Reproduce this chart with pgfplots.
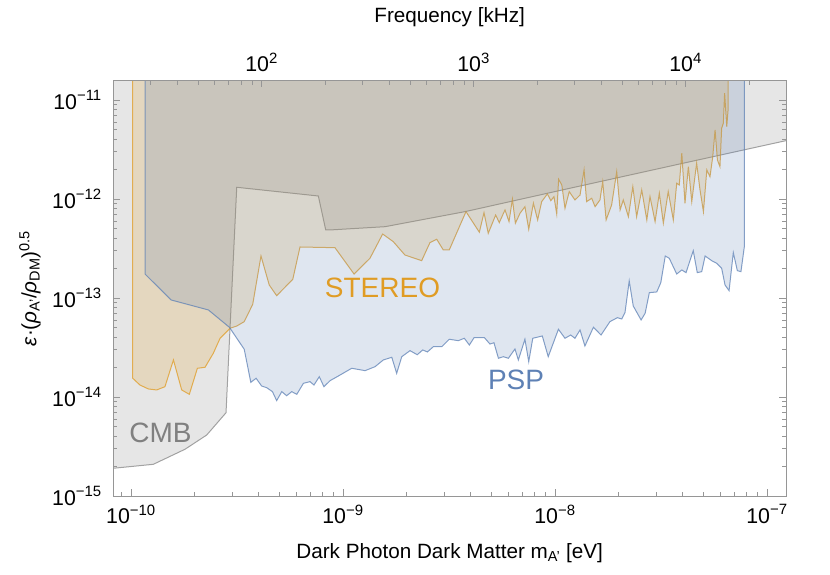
\documentclass[border=0pt]{standalone}
\usepackage{fontspec}
\setmainfont{Liberation Sans}
\usepackage{pgfplots}
\pgfplotsset{compat=1.18}

\definecolor{pspBlue}{RGB}{94,129,181}
\definecolor{stOrange}{RGB}{224,156,36}
\definecolor{cmbGray}{RGB}{128,128,128}
\definecolor{frameGray}{RGB}{150,150,150}

% all values are log10: x = log10(m_A' / eV), y = log10(epsilon)
\pgfplotsset{
  base/.style={
    at={(0,0)}, anchor=south west,
    width=504.5pt, height=311.5pt, scale only axis,
    axis line style={frameGray, line width=0.6pt},
    tick style={frameGray, line width=0.6pt},
    major tick length=5pt, minor tick length=3pt,
    tick label style={font=\fontsize{16}{19}\selectfont, black},
    label style={font=\fontsize{15.5}{18}\selectfont, black},
  }
}

\begin{document}
\begin{tikzpicture}
\useasboundingbox (-85pt,-58.5pt) rectangle (537.5pt,372pt);

\begin{axis}[base,
  xmin=-10.0835, xmax=-6.9104, ymin=-15, ymax=-10.805,
  axis on top,
  xtick pos=left, ytick pos=both, yticklabel pos=left,
  xticklabel style={yshift=-3pt},
  yticklabel style={xshift=-5pt},
  xtick={-10,-9,-8,-7},
  xticklabels={10\textsuperscript{−10},10\textsuperscript{−9},10\textsuperscript{−8},10\textsuperscript{−7}},
  minor xtick={-10.04576,
    -9.69897,-9.52288,-9.39794,-9.30103,-9.22185,-9.15490,-9.09691,-9.04576,
    -8.69897,-8.52288,-8.39794,-8.30103,-8.22185,-8.15490,-8.09691,-8.04576,
    -7.69897,-7.52288,-7.39794,-7.30103,-7.22185,-7.15490,-7.09691,-7.04576},
  ytick={-15,-14,-13,-12,-11},
  yticklabels={10\textsuperscript{−15},10\textsuperscript{−14},10\textsuperscript{−13},10\textsuperscript{−12},10\textsuperscript{−11}},
  minor ytick={
    -14.69897,-14.52288,-14.39794,-14.30103,-14.22185,-14.15490,-14.09691,-14.04576,
    -13.69897,-13.52288,-13.39794,-13.30103,-13.22185,-13.15490,-13.09691,-13.04576,
    -12.69897,-12.52288,-12.39794,-12.30103,-12.22185,-12.15490,-12.09691,-12.04576,
    -11.69897,-11.52288,-11.39794,-11.30103,-11.22185,-11.15490,-11.09691,-11.04576},
  xlabel={Dark Photon Dark Matter m\textsubscript{A'} [eV]},
  xlabel style={at={(axis description cs:0.5,-0.137)}, anchor=center},
  ylabel={\textit{ε}·(\textit{ρ}\textsubscript{A'}/\textit{ρ}\textsubscript{DM})\textsuperscript{0.5}},
  ylabel style={at={(axis description cs:-0.124,0.5)}, anchor=center},
]

% CMB
\addplot[fill=cmbGray, fill opacity=0.2, draw=cmbGray, draw opacity=0.7, line width=0.75pt]
coordinates {
(-10.2,-14.730) (-10.0835,-14.720) (-9.8948,-14.680) (-9.7453,-14.528) (-9.6429,-14.384)
(-9.5519,-14.159) (-9.533,-13.303) (-9.5014,-11.882) (-9.1165,-11.970) (-9.0816,-12.313)
(-9.0613,-12.313) (-8.8019,-12.280) (-8.4198,-12.126) (-7.9764,-11.914) (-7.4104,-11.646)
(-6.9104,-11.411) (-6.8,-11.385) (-6.8,-10.5) (-10.2,-10.5)
} --cycle;

% STEREO
\addplot[fill=stOrange, fill opacity=0.2, draw=stOrange, draw opacity=0.75, line width=0.75pt]
coordinates {
(-9.992,-10.5)
(-9.992,-13.811) (-9.958,-13.879) (-9.918,-13.919) (-9.879,-13.929) (-9.840,-13.896)
(-9.800,-13.626) (-9.761,-13.929) (-9.725,-13.973) (-9.687,-13.710) (-9.651,-13.700)
(-9.612,-13.559) (-9.580,-13.407) (-9.533,-13.306) (-9.501,-13.283) (-9.466,-13.239)
(-9.426,-13.064) (-9.387,-12.576) (-9.348,-12.869) (-9.313,-12.977) (-9.237,-12.811)
(-9.203,-12.485) (-9.038,-12.492) (-8.948,-12.758) (-8.873,-12.599) (-8.813,-12.354)
(-8.763,-12.431) (-8.708,-12.566) (-8.629,-12.623) (-8.590,-12.441) (-8.558,-12.407)
(-8.527,-12.515) (-8.499,-12.515) (-8.420,-12.128) (-8.357,-12.336) (-8.335,-12.138)
(-8.315,-12.347) (-8.280,-12.162) (-8.263,-12.239) (-8.236,-12.111) (-8.217,-12.229)
(-8.201,-12.003) (-8.187,-12.245) (-8.165,-12.144) (-8.142,-12.078) (-8.124,-12.306)
(-8.102,-12.043) (-8.082,-12.212) (-8.063,-12.027) (-8.036,-11.949) (-8.020,-12.017)
(-8.005,-11.977) (-7.992,-12.152) (-7.983,-11.801) (-7.968,-11.859) (-7.953,-12.094)
(-7.933,-11.926) (-7.906,-12.010) (-7.882,-11.960) (-7.863,-11.707) (-7.851,-12.027)
(-7.827,-11.993) (-7.811,-12.078) (-7.788,-12.010) (-7.775,-11.825) (-7.759,-12.212)
(-7.733,-12.061) (-7.709,-11.724) (-7.693,-12.111) (-7.678,-12.010) (-7.654,-12.179)
(-7.633,-11.876) (-7.615,-12.179) (-7.591,-11.909) (-7.567,-12.212) (-7.552,-11.977)
(-7.528,-12.229) (-7.508,-11.942) (-7.489,-12.245) (-7.466,-11.926) (-7.442,-12.212)
(-7.426,-11.841) (-7.414,-11.859) (-7.402,-11.538) (-7.387,-12.043) (-7.371,-11.674)
(-7.355,-12.027) (-7.332,-11.639) (-7.316,-11.909) (-7.300,-12.128) (-7.284,-11.707)
(-7.269,-11.775) (-7.256,-11.573) (-7.245,-11.303) (-7.234,-11.606) (-7.222,-11.674)
(-7.214,-11.286) (-7.206,-11.235) (-7.200,-10.932) (-7.190,-11.270) (-7.183,-11.084)
(-7.183,-10.5)
} --cycle;

% PSP
\addplot[fill=pspBlue, fill opacity=0.2, draw=pspBlue, draw opacity=0.75, line width=0.75pt]
coordinates {
(-9.934,-10.5)
(-9.934,-12.758) (-9.811,-13.020) (-9.635,-13.121) (-9.536,-13.296) (-9.466,-13.518)
(-9.435,-13.852) (-9.410,-13.811) (-9.384,-13.889) (-9.360,-13.906) (-9.333,-13.946)
(-9.313,-14.037) (-9.289,-13.946) (-9.266,-13.987) (-9.242,-13.946) (-9.218,-13.973)
(-9.187,-13.862) (-9.156,-13.845) (-9.137,-13.879) (-9.112,-13.795) (-9.090,-13.896)
(-9.061,-13.835) (-9.022,-13.788) (-8.959,-13.710) (-8.896,-13.734) (-8.849,-13.694)
(-8.810,-13.626) (-8.770,-13.599) (-8.747,-13.761) (-8.723,-13.593) (-8.684,-13.532)
(-8.650,-13.573) (-8.624,-13.525) (-8.602,-13.545) (-8.574,-13.492) (-8.534,-13.492)
(-8.499,-13.417) (-8.456,-13.431) (-8.428,-13.407) (-8.404,-13.475) (-8.382,-13.401)
(-8.333,-13.401) (-8.307,-13.465) (-8.288,-13.452) (-8.267,-13.609) (-8.244,-13.593)
(-8.220,-13.609) (-8.189,-13.515) (-8.173,-13.626) (-8.142,-13.417) (-8.124,-13.643)
(-8.105,-13.407) (-8.060,-13.384) (-8.032,-13.593) (-7.984,-13.316) (-7.953,-13.407)
(-7.926,-13.374) (-7.906,-13.407) (-7.882,-13.323) (-7.859,-13.485) (-7.819,-13.296)
(-7.783,-13.374) (-7.741,-13.239) (-7.706,-13.199) (-7.685,-13.212) (-7.670,-13.148)
(-7.650,-12.828) (-7.631,-13.081) (-7.594,-13.222) (-7.575,-13.155) (-7.555,-12.946)
(-7.520,-12.939) (-7.501,-12.845) (-7.480,-12.576) (-7.461,-12.599) (-7.426,-12.758)
(-7.402,-12.717) (-7.382,-12.744) (-7.348,-12.522) (-7.329,-12.744) (-7.308,-12.734)
(-7.292,-12.576) (-7.261,-12.623) (-7.237,-12.650) (-7.214,-12.700) (-7.198,-12.869)
(-7.179,-12.926) (-7.159,-12.542) (-7.140,-12.724) (-7.123,-12.734) (-7.107,-12.482)
(-7.107,-10.5)
} --cycle;

\node[font=\fontsize{21}{25}\selectfont, text=stOrange] at (axis cs:-8.8137,-12.899) {STEREO};
\node[font=\fontsize{21}{25}\selectfont, text=pspBlue] at (axis cs:-8.1840,-13.828) {PSP};
\node[font=\fontsize{21}{25}\selectfont, text=cmbGray] at (axis cs:-9.8608,-14.359) {CMB};
\end{axis}

% top axis: frequency in kHz, log10 values
\begin{axis}[base,
  xmin=1.3, xmax=4.4731, ymin=0, ymax=1,
  axis line style={draw=none},
  ytick=\empty,
  xtick pos=right, xticklabel pos=right,
  xticklabel style={yshift=3pt},
  xtick={2,3,4},
  xticklabels={10\textsuperscript{2},10\textsuperscript{3},10\textsuperscript{4}},
  minor xtick={1.47712,1.60206,1.69897,1.77815,1.84510,1.90309,1.95424,
    2.30103,2.47712,2.60206,2.69897,2.77815,2.84510,2.90309,2.95424,
    3.30103,3.47712,3.60206,3.69897,3.77815,3.84510,3.90309,3.95424,
    4.30103},
  xlabel={Frequency [kHz]},
  xlabel style={at={(axis description cs:0.5,1.153)}, anchor=center},
]
\end{axis}
\end{tikzpicture}
\end{document}
